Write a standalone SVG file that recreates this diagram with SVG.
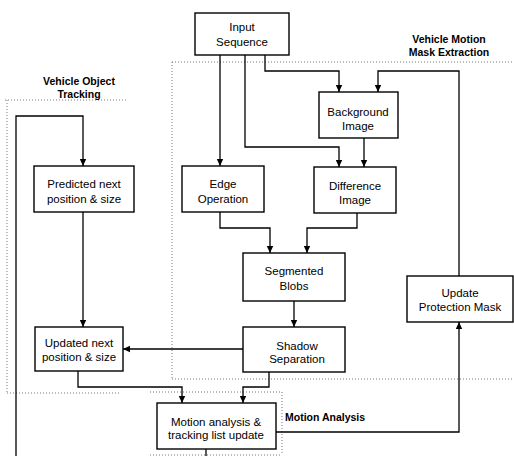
<svg xmlns="http://www.w3.org/2000/svg" width="514" height="456" viewBox="0 0 514 456">
<defs>
<marker id="ah" markerWidth="8" markerHeight="8" refX="7" refY="4" orient="auto" markerUnits="userSpaceOnUse">
<path d="M0,0.8 L7,4 L0,7.2 Z" fill="#000"/>
</marker>
<style>
.box{fill:#fff;stroke:#000;stroke-width:1.4}
.t{font-family:"Liberation Sans",Arial,sans-serif;font-size:11.5px;fill:#000;text-anchor:middle}
.lb{font-family:"Liberation Sans",Arial,sans-serif;font-size:10.5px;font-weight:bold;fill:#000;text-anchor:middle}
.c{fill:none;stroke:#000;stroke-width:1.3}
.a{marker-end:url(#ah)}
.reg{fill:none;stroke:#777;stroke-width:1;stroke-dasharray:1,2}
</style>
</defs>
<rect width="514" height="456" fill="#fff"/>
<g id="regions">
<path class="reg" d="M172,62 H514 M172,62 V379 M172,379 H514"/>
<path class="reg" d="M5,100 H128 M7,100 V393 M7,393 H120"/>
<path class="reg" d="M150,392 H282 M282,392 V455 M150,455 H282"/>
</g>
<g id="labels">
<text class="lb" x="79" y="85">Vehicle Object</text>
<text class="lb" x="79" y="98">Tracking</text>
<text class="lb" x="449" y="43">Vehicle Motion</text>
<text class="lb" x="449" y="56">Mask Extraction</text>
<text class="lb" x="285" y="421" style="text-anchor:start">Motion Analysis</text>
</g>
<g id="connectors">
<path class="c a" d="M220,55 V166"/>
<path class="c a" d="M245,55 V147 H339 V167"/>
<path class="c a" d="M265,55 V71 H339 V92"/>
<path class="c a" d="M459,276 V71 H378 V92"/>
<path class="c a" d="M364,138 V167"/>
<path class="c a" d="M220,212 V228 H270 V253"/>
<path class="c a" d="M357,213 V228 H307 V253"/>
<path class="c a" d="M294,301 V327"/>
<path class="c a" d="M243,349 H123"/>
<path class="c a" d="M269,372 V387 H243 V403"/>
<path class="c a" d="M78,371 V387 H182 V403"/>
<path class="c a" d="M276,432 H459 V322"/>
<path class="c a" d="M16,456 V116 H83 V166"/>
<path class="c a" d="M83,212 V327"/>
<path class="c" d="M206,449 V456"/>
</g>
<g id="input">
<rect class="box" x="195" y="13" width="94" height="42"/>
<text class="t" x="242" y="31">Input</text>
<text class="t" x="242" y="46">Sequence</text>
</g>
<g id="background">
<rect class="box" x="319" y="92" width="79" height="46"/>
<text class="t" x="358" y="116">Background</text>
<text class="t" x="358" y="130">Image</text>
</g>
<g id="edge">
<rect class="box" x="182" y="166" width="82" height="46"/>
<text class="t" x="223" y="188">Edge</text>
<text class="t" x="223" y="203">Operation</text>
</g>
<g id="difference">
<rect class="box" x="314" y="167" width="82" height="46"/>
<text class="t" x="355" y="190">Difference</text>
<text class="t" x="355" y="204">Image</text>
</g>
<g id="predicted">
<rect class="box" x="34" y="166" width="100" height="46"/>
<text class="t" x="84" y="188">Predicted next</text>
<text class="t" x="84" y="203">position &amp; size</text>
</g>
<g id="segmented">
<rect class="box" x="243" y="253" width="102" height="48"/>
<text class="t" x="294" y="275">Segmented</text>
<text class="t" x="294" y="290">Blobs</text>
</g>
<g id="shadow">
<rect class="box" x="243" y="327" width="102" height="45"/>
<text class="t" x="297" y="350">Shadow</text>
<text class="t" x="297" y="363">Separation</text>
</g>
<g id="updated">
<rect class="box" x="35" y="327" width="88" height="44"/>
<text class="t" x="79" y="347">Updated next</text>
<text class="t" x="79" y="361">position  &amp; size</text>
</g>
<g id="protection">
<rect class="box" x="407" y="276" width="106" height="46"/>
<text class="t" x="460" y="297">Update</text>
<text class="t" x="460" y="311">Protection Mask</text>
</g>
<g id="motion">
<rect class="box" x="157" y="403" width="119" height="46"/>
<text class="t" x="216" y="426">Motion analysis &amp;</text>
<text class="t" x="216" y="439">tracking list update</text>
</g>
</svg>
